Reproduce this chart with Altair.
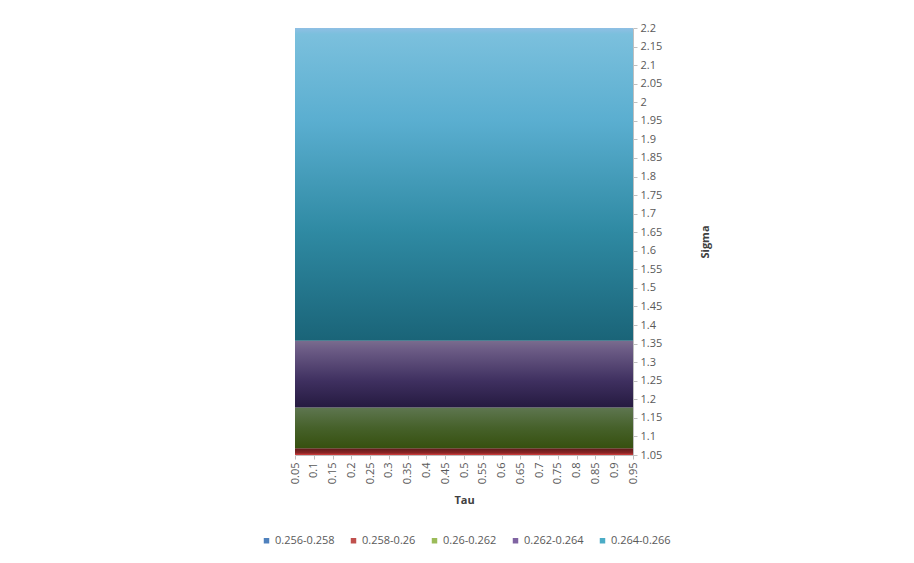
import altair as alt
import pandas as pd

# ---- data ----
band_labels = ["0.256-0.258", "0.258-0.26", "0.26-0.262", "0.262-0.264", "0.264-0.266"]
legend_colors = ["#4f81bd", "#c0504d", "#9bbb59", "#8064a2", "#4bacc6"]
# visible bands (sigma ranges) over the full Tau range
vis_labels = ["0.258-0.26", "0.26-0.262", "0.262-0.264", "0.264-0.266"]
sigma_lo = [1.05, 1.068, 1.178, 1.358]
sigma_hi = [1.068, 1.178, 1.358, 2.2]
tau_min, tau_max = 0.05, 0.95
tau_ticks = [0.05, 0.1, 0.15, 0.2, 0.25, 0.3, 0.35, 0.4, 0.45, 0.5,
             0.55, 0.6, 0.65, 0.7, 0.75, 0.8, 0.85, 0.9, 0.95]
sigma_ticks = [1.05, 1.1, 1.15, 1.2, 1.25, 1.3, 1.35, 1.4, 1.45, 1.5, 1.55, 1.6,
               1.65, 1.7, 1.75, 1.8, 1.85, 1.9, 1.95, 2.0, 2.05, 2.1, 2.15, 2.2]

# ---- style: gradient stops (bottom -> top) for each visible band ----
band_gradients = {
    "0.258-0.26": [("#d84040", 0.0), ("#8a2626", 0.3), ("#5e1a1a", 1.0)],
    "0.26-0.262": [("#36500f", 0.0), ("#46612a", 0.5), ("#5e7650", 1.0)],
    "0.262-0.264": [("#251a40", 0.0), ("#3f3060", 0.4), ("#6a5a84", 0.85), ("#7a6c8e", 1.0)],
    "0.264-0.266": [("#1a6478", 0.0), ("#2f8aa3", 0.35), ("#5aaed0", 0.7),
                    ("#7bc0dd", 0.98), ("#8fbfe4", 1.0)],
}

bands = pd.DataFrame({
    "label": vis_labels,
    "lo": sigma_lo,
    "hi": sigma_hi,
    "tau_lo": [tau_min] * len(vis_labels),
    "tau_hi": [tau_max] * len(vis_labels),
})

FONT = "Open Sans"
LABEL_COLOR = "#595959"

x_enc = alt.X(
    "tau_lo:Q",
    scale=alt.Scale(domain=[tau_min, tau_max], nice=False, zero=False),
    axis=alt.Axis(values=tau_ticks, format=".2~f", labelAngle=-90, title="Tau",
                  grid=False, tickSize=4, tickColor="#bfbfbf", domainColor="#bfbfbf",
                  labelOverlap=False, labelBound=False, labelFlush=False,
                  labelColor=LABEL_COLOR, labelFontSize=11, labelFont=FONT,
                  titleFont=FONT, titleFontSize=11, titleFontWeight="bold",
                  titleColor="#404040", titlePadding=11, labelPadding=3),
)
y_enc = alt.Y(
    "lo:Q",
    scale=alt.Scale(domain=[1.05, 2.2], nice=False, zero=False),
    axis=alt.Axis(values=sigma_ticks, format=".2~f", orient="right", title="Sigma",
                  grid=False, tickSize=4, tickColor="#bfbfbf", domainColor="#bfbfbf",
                  labelOverlap=False, labelBound=False, labelFlush=False,
                  labelColor=LABEL_COLOR, labelFontSize=11, labelFont=FONT,
                  titleFont=FONT, titleFontSize=11, titleFontWeight="bold",
                  titleColor="#404040", titleAngle=270, titlePadding=49, labelPadding=3),
)

layers = []
for lab in vis_labels:
    stops = [alt.GradientStop(color=c, offset=o) for c, o in band_gradients[lab]]
    layer = alt.Chart(bands[bands["label"] == lab]).mark_rect(
        color=alt.Gradient(gradient="linear", stops=stops, x1=0, x2=0, y1=1, y2=0)
    ).encode(x=x_enc, x2="tau_hi:Q", y=y_enc, y2="hi:Q")
    layers.append(layer)

legend_df = pd.DataFrame({"label": band_labels,
                          "tau_lo": [tau_min] * 5, "lo": [1.05] * 5})
legend_layer = alt.Chart(legend_df).mark_square(opacity=0, size=1).encode(
    x=x_enc,
    y=y_enc,
    color=alt.Color(
        "label:N",
        scale=alt.Scale(domain=band_labels, range=legend_colors),
        legend=alt.Legend(orient="none", legendX=-34, legendY=507, direction="horizontal",
                          title=None, symbolType="square", symbolSize=30,
                          symbolOpacity=1, symbolStrokeWidth=0,
                          labelFont=FONT, labelFontSize=11, labelColor=LABEL_COLOR,
                          columnPadding=13, labelOffset=3),
    ),
)

chart = alt.layer(*layers, legend_layer).properties(
    width=338, height=427,
    autosize=alt.AutoSizeParams(type="none"),
    padding={"left": 295, "top": 28, "right": 281, "bottom": 108},
    background="white",
).configure_view(stroke=None)

chart.save("out.html", embed_options={"renderer": "svg", "actions": False})
